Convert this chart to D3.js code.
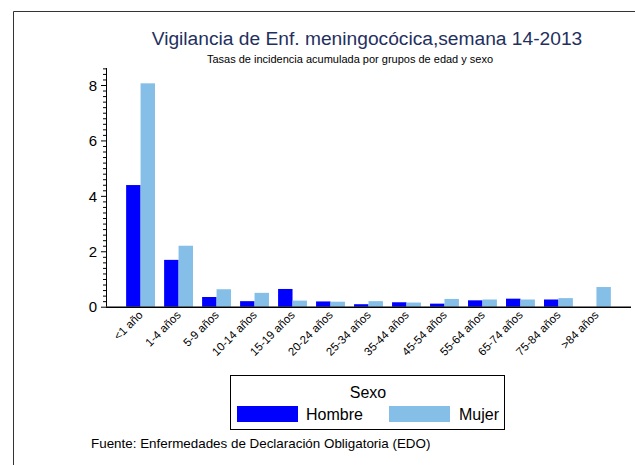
<!DOCTYPE html>
<html><head><meta charset="utf-8">
<script src="https://cdn.jsdelivr.net/npm/d3@7"></script>
<style>body{margin:0;background:#fff;}svg{display:block;font-family:"Liberation Sans",Arial,sans-serif;}</style>
</head><body>
<script>
const categories = ["<1 año","1-4 años","5-9 años","10-14 años","15-19 años","20-24 años","25-34 años","35-44 años","45-54 años","55-64 años","65-74 años","75-84 años",">84 años"];
const hombre = [4.39,1.69,0.35,0.20,0.64,0.19,0.09,0.16,0.11,0.23,0.29,0.26,0];
const mujer  = [8.06,2.20,0.63,0.50,0.22,0.18,0.20,0.15,0.28,0.26,0.26,0.31,0.71];
const seriesNames = ["Hombre","Mujer"];
const colors = ["#0000ff","#85bfe8"];
const yTicks = [0,2,4,6,8];

const W=635,H=465;
const svg=d3.select("body").append("svg").attr("width",W).attr("height",H);
svg.append("path").attr("d","M13.5,466V11.5H636").attr("fill","none").attr("stroke","#333").attr("stroke-width",1);

const x0=106, x1=631, yTop=68, yZero=306.7;
const x=d3.scaleBand().domain(categories).range([x0,x1]).paddingInner(0.24).paddingOuter(0.53);
const xs=d3.scaleBand().domain(seriesNames).range([0,x.bandwidth()]);
const y=d3.scaleLinear().domain([0,8]).range([yZero,yZero-221.7]);

svg.append("text").attr("x",367).attr("y",45).attr("text-anchor","middle").attr("font-size",19.2).attr("fill","#1f3060").text("Vigilancia de Enf. meningocócica,semana 14-2013");
svg.append("text").attr("x",350).attr("y",63).attr("text-anchor","middle").attr("font-size",11).attr("fill","#000").text("Tasas de incidencia acumulada por grupos de edad y sexo");

const data=categories.map((c,i)=>({c,vals:[hombre[i],mujer[i]]}));
const g=svg.append("g");
g.selectAll("g.grp").data(data).join("g").attr("class","grp")
 .attr("transform",d=>`translate(${x(d.c)},0)`)
 .selectAll("rect").data(d=>d.vals.map((v,j)=>({v,j}))).join("rect")
 .attr("x",d=>xs(seriesNames[d.j])).attr("width",xs.bandwidth())
 .attr("y",d=>y(d.v)).attr("height",d=>y(0)-y(d.v))
 .attr("fill",d=>colors[d.j]);

// y axis
const yAxis=d3.axisLeft(y).tickValues(yTicks).tickSize(5).tickPadding(4).tickFormat(d3.format("d"));
const ya=svg.append("g").attr("transform",`translate(${x0},0)`).call(yAxis);
ya.select(".domain").attr("d",`M0.5,${yTop}V${yZero}`).attr("stroke","#000");
ya.selectAll("text").attr("font-size",15).attr("fill","#000").attr("dy","0.35em");
const minor=d3.range(0,8.61,0.2).filter(v=>Math.abs(v/2-Math.round(v/2))>0.01);
ya.selectAll("line.minor").data(minor).join("line").attr("class","minor")
 .attr("x1",-3).attr("x2",0).attr("y1",d=>y(d)+0.5).attr("y2",d=>y(d)+0.5).attr("stroke","#000");

// x axis
const xAxis=d3.axisBottom(x).tickSize(0).tickPadding(0);
const xa=svg.append("g").attr("transform",`translate(0,${yZero})`).call(xAxis);
xa.select(".domain").attr("d",`M${x0},0.5H${x1}`).attr("stroke","#000").attr("stroke-width",1.5);
xa.selectAll("text").attr("font-size",11.5).attr("fill","#000").attr("text-anchor","end")
 .attr("dy",0).attr("y",0).attr("transform","translate(3,9) rotate(-45)");

// legend
const lg=svg.append("g");
lg.append("rect").attr("x",230.5).attr("y",375.5).attr("width",274).attr("height",54).attr("fill","#fff").attr("stroke","#000");
lg.append("text").attr("x",368).attr("y",398).attr("text-anchor","middle").attr("font-size",16).text("Sexo");
const lx=[237,389], tx=[306,459];
seriesNames.forEach((s,i)=>{
  lg.append("rect").attr("x",lx[i]).attr("y",406).attr("width",61).attr("height",16).attr("fill",colors[i]);
  lg.append("text").attr("x",tx[i]).attr("y",420).attr("font-size",16).text(s);
});
svg.append("text").attr("x",91).attr("y",448).attr("font-size",13.4).text("Fuente: Enfermedades de Declaración Obligatoria (EDO)");
</script>
</body></html>
